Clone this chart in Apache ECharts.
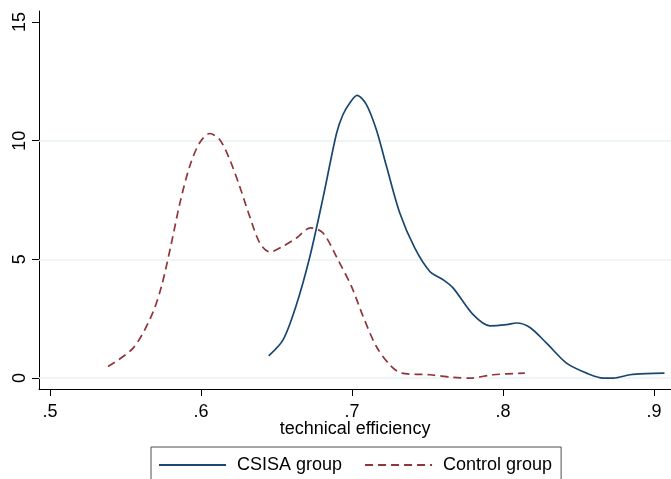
<!DOCTYPE html>
<html>
<head>
<meta charset="utf-8">
<script src="https://cdn.jsdelivr.net/npm/echarts@6/dist/echarts.min.js"></script>
<style>html,body{margin:0;padding:0;background:#fff}#c{width:671px;height:479px}</style>
</head>
<body>
<div id="c"></div>
<script>
// Kernel density estimates
const csisaX = [0.6448,0.6543,0.6632,0.672,0.6808,0.6897,0.694,0.6985,0.7033,0.7095,0.7161,0.7228,0.7316,0.7415,0.7515,0.7603,0.767,0.7802,0.7913,0.8023,0.8089,0.8178,0.8288,0.842,0.8553,0.8664,0.873,0.8841,0.8950,0.9069];
const csisaY = [0.94,1.61,3.1,5.1,7.6,10.3,11.1,11.59,11.91,11.52,10.46,8.92,6.95,5.48,4.49,4.14,3.79,2.67,2.2,2.25,2.32,2.13,1.47,0.63,0.21,0.0,0.0,0.14,0.19,0.21];
const controlX = [0.5384,0.555,0.567,0.5738,0.5804,0.586,0.5925,0.599,0.6058,0.6124,0.619,0.6256,0.6322,0.6389,0.6455,0.6543,0.6632,0.6725,0.6808,0.6907,0.6996,0.7073,0.7161,0.725,0.7327,0.7515,0.767,0.778,0.7934,0.8144];
const controlY = [0.49,1.26,2.6,3.86,5.69,7.37,8.92,9.9,10.3,10.04,9.2,8.07,6.81,5.69,5.31,5.55,5.9,6.33,6.11,4.98,3.86,2.6,1.33,0.56,0.21,0.14,0.03,0.0,0.14,0.21];
const xTicks = [0.5,0.6,0.7,0.8,0.9];
const yTicks = [0,5,10,15];
const gridVals = [0,5,10];
const seriesNames = ['CSISA group','Control group'];
const xTitle = 'technical efficiency';

const zip = (xs, ys) => xs.map((x, i) => [x, ys[i]]);
const FONT = 'Liberation Sans, Arial, sans-serif';
const chart = echarts.init(document.getElementById('c'), null, {renderer: 'canvas'});
chart.setOption({
  backgroundColor: '#fff',
  animation: false,
  grid: {left: 39, right: 0, top: 11, bottom: 90, containLabel: false},
  xAxis: {
    type: 'value', min: 0.4927, max: 0.9112,
    name: xTitle, nameLocation: 'middle', nameGap: 31, nameMoveOverlap: false,
    nameTextStyle: {fontFamily: FONT, fontSize: 18, color: '#000'},
    axisLine: {show: true, onZero: false, lineStyle: {color: '#000', width: 1}},
    axisTick: {show: true, length: 7, customValues: xTicks, lineStyle: {color: '#000'}},
    axisLabel: {show: true, customValues: xTicks, margin: 14, fontFamily: FONT, fontSize: 18, color: '#000',
      formatter: v => String(v).replace(/^0/, '')},
    splitLine: {show: false}
  },
  yAxis: {
    type: 'value', min: -0.46, max: 15.46,
    axisLine: {show: true, onZero: false, lineStyle: {color: '#000', width: 1}},
    axisTick: {show: true, length: 7, customValues: yTicks, lineStyle: {color: '#000'}},
    axisLabel: {show: true, customValues: yTicks, rotate: 90, margin: 10, fontFamily: FONT, fontSize: 18, color: '#000'},
    splitLine: {show: false}
  },
  legend: {
    left: 151, top: 447,
    padding: [9, 9, 40, 7],
    itemGap: 22, itemWidth: 67, itemHeight: 14,
    borderColor: '#4d4d4d', borderWidth: 1,
    itemStyle: {opacity: 0},
    textStyle: {fontFamily: FONT, fontSize: 18, color: '#000', padding: [0, 0, 0, 6]},
    data: seriesNames
  },
  series: [
    {
      name: seriesNames[0], type: 'line', smooth: 0.3, symbol: 'none',
      data: zip(csisaX, csisaY),
      lineStyle: {color: '#1a476f', width: 1.7},
      itemStyle: {color: '#1a476f'},
      z: 3,
      markLine: {
        silent: true, symbol: 'none', label: {show: false},
        lineStyle: {color: '#eaf2f3', width: 1.5, type: 'solid'},
        data: gridVals.map(v => ({yAxis: v})),
        z: 1, animation: false
      }
    },
    {
      name: seriesNames[1], type: 'line', smooth: 0.3, symbol: 'none',
      data: zip(controlX, controlY),
      lineStyle: {color: '#90353b', width: 1.7, type: [8, 5]},
      itemStyle: {color: '#90353b'},
      z: 3
    }
  ]
});
</script>
</body>
</html>
